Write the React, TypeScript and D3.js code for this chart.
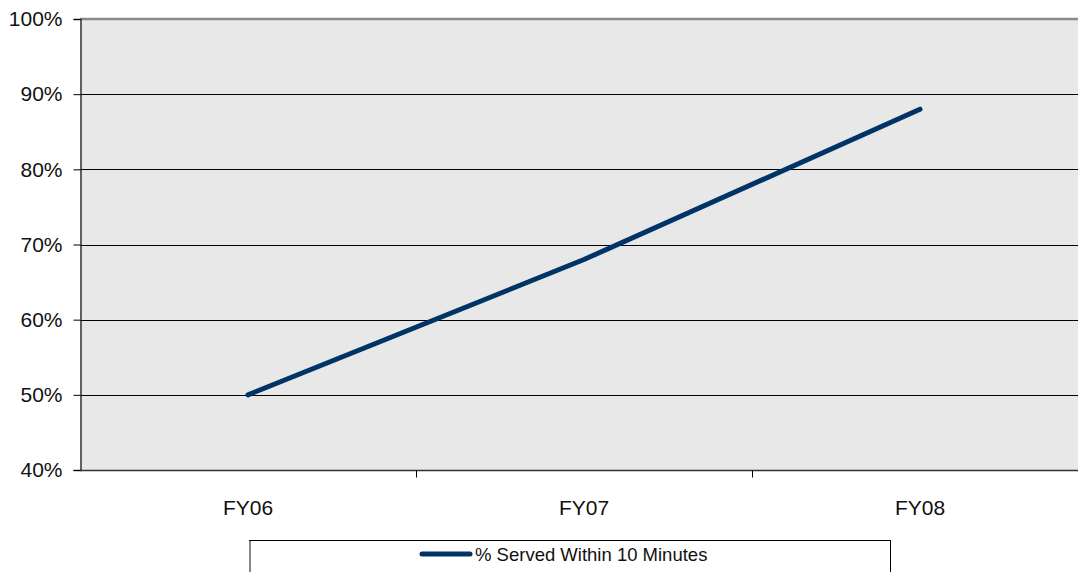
import React, { useEffect, useRef } from "react";
import * as d3 from "d3";

const categories = ["FY06", "FY07", "FY08"];
const values = [50, 68, 88];
const yTicks = [40, 50, 60, 70, 80, 90, 100];
const seriesName = "% Served Within 10 Minutes";

const App = () => {
  const svgRef = useRef<SVGSVGElement | null>(null);
  const w = 1078;
  const h = 572;
  const m = { top: 19, left: 80, bottom: 102 };
  const plotRight = 1088;
  const font = "'Liberation Sans', Arial, sans-serif";

  useEffect(() => {
    const svg = d3.select(svgRef.current);
    svg.selectAll("*").remove();

    const x = d3.scaleBand().domain(categories).range([m.left, plotRight]);
    const y = d3.scaleLinear().domain([40, 100]).range([h - m.bottom, m.top]);

    // plot background
    svg.append("rect")
      .attr("x", m.left)
      .attr("y", m.top)
      .attr("width", plotRight - m.left)
      .attr("height", y(40) - m.top)
      .attr("fill", "#e8e8e8");

    // gridlines
    svg.append("g")
      .selectAll("line")
      .data(yTicks.filter((t) => t > 40 && t < 100))
      .enter()
      .append("line")
      .attr("x1", m.left)
      .attr("x2", plotRight)
      .attr("y1", (d) => Math.round(y(d)) + 0.5)
      .attr("y2", (d) => Math.round(y(d)) + 0.5)
      .attr("stroke", "#000")
      .attr("stroke-width", 1);

    // top border
    svg.append("line")
      .attr("x1", m.left)
      .attr("x2", plotRight)
      .attr("y1", m.top)
      .attr("y2", m.top)
      .attr("stroke", "#8a8a8a")
      .attr("stroke-width", 2.5);

    // y axis
    const yAxis = svg.append("g")
      .attr("transform", `translate(${m.left + 0.5},0)`)
      .call(d3.axisLeft(y).tickValues(yTicks).tickFormat((d) => `${d}%`).tickSize(7).tickPadding(11));
    yAxis.select(".domain").attr("stroke", "#333").attr("stroke-width", 1.5);
    yAxis.selectAll(".tick line").attr("stroke", "#000");
    yAxis.selectAll("text")
      .style("font-family", font)
      .style("font-size", "21px")
      .attr("fill", "#111");

    // x axis
    const xAxis = svg.append("g")
      .attr("transform", `translate(0,${y(40) + 0.5})`);
    xAxis.append("line")
      .attr("x1", m.left)
      .attr("x2", plotRight)
      .attr("stroke", "#333")
      .attr("stroke-width", 1.5);
    xAxis.selectAll(".xt")
      .data(categories.slice(1))
      .enter()
      .append("line")
      .attr("x1", (d) => Math.round(x(d)!) + 0.5)
      .attr("x2", (d) => Math.round(x(d)!) + 0.5)
      .attr("y1", 0)
      .attr("y2", 7)
      .attr("stroke", "#000");
    xAxis.selectAll(".xl")
      .data(categories)
      .enter()
      .append("text")
      .attr("x", (d) => x(d)! + x.bandwidth() / 2)
      .attr("y", 44)
      .attr("text-anchor", "middle")
      .style("font-family", font)
      .style("font-size", "21px")
      .attr("fill", "#111")
      .text((d) => d);

    // series line
    const line = d3.line<number>()
      .x((_, i) => x(categories[i])! + x.bandwidth() / 2)
      .y((d) => y(d));
    svg.append("path")
      .datum(values)
      .attr("d", line)
      .attr("fill", "none")
      .attr("stroke", "#003366")
      .attr("stroke-width", 5)
      .attr("stroke-linecap", "round")
      .attr("stroke-linejoin", "round");

    // legend
    const lg = svg.append("g");
    lg.append("rect")
      .attr("x", 249.5)
      .attr("y", 540.5)
      .attr("width", 641)
      .attr("height", 60)
      .attr("fill", "#fff")
      .attr("stroke", "#000")
      .attr("stroke-width", 1);
    lg.append("line")
      .attr("x1", 250)
      .attr("x2", 250)
      .attr("y1", 541)
      .attr("y2", 572)
      .attr("stroke", "#888")
      .attr("stroke-width", 2);
    lg.append("line")
      .attr("x1", 422)
      .attr("x2", 470)
      .attr("y1", 554)
      .attr("y2", 554)
      .attr("stroke", "#003366")
      .attr("stroke-width", 5)
      .attr("stroke-linecap", "round");
    lg.append("text")
      .attr("x", 475)
      .attr("y", 561)
      .style("font-family", font)
      .style("font-size", "18.5px")
      .attr("fill", "#111")
      .text(seriesName);
  }, []);

  return (
    <svg
      ref={svgRef}
      width={w}
      height={h}
      style={{ position: "absolute", left: 0, top: 0, background: "#fff" }}
    ></svg>
  );
};

export default App;
